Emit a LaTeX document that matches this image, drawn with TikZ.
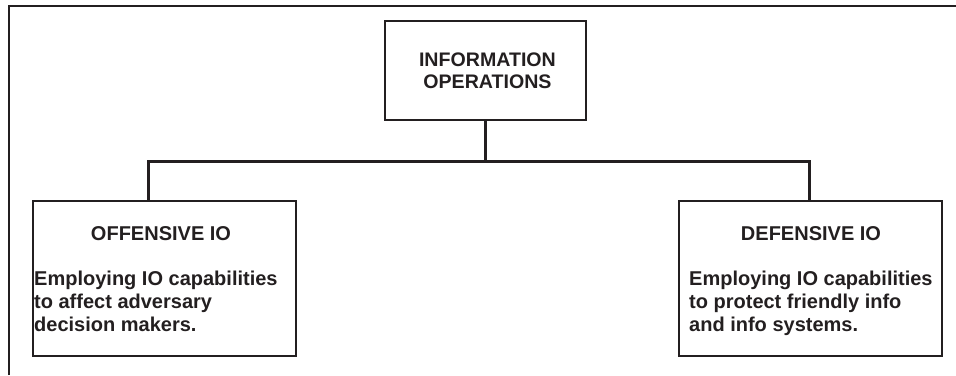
\documentclass[tikz,border=0pt]{standalone}
\usepackage{fontspec}
\setmainfont{Liberation Sans}
\definecolor{ink}{HTML}{231F20}
\begin{document}
\begin{tikzpicture}[x=1pt,y=-1pt,
  every node/.style={text=ink},
  frameline/.style={draw=ink,line width=1.6pt},
  boxstyle/.style={draw=ink,line width=1.9pt,rectangle,inner sep=0pt,anchor=north west},
  conn/.style={draw=ink,line width=3pt},
  title/.style={font=\fontsize{20}{23}\selectfont\bfseries,anchor=base,inner sep=0pt},
  body/.style={font=\fontsize{20}{23}\selectfont\bfseries,align=left,anchor=north west,inner sep=0pt}]
  \useasboundingbox (0,0) rectangle (956,375);
  % outer frame (top and left sides only)
  \draw[frameline] (9,375) -- (9,6) -- (956,6);

  % the three boxes
  \node[boxstyle,minimum width=201pt,minimum height=99pt] (top) at (384,20) {};
  \node[boxstyle,minimum width=263pt,minimum height=155pt] (off) at (32,200) {};
  \node[boxstyle,minimum width=263pt,minimum height=155pt] (def) at (678,200) {};

  % box texts
  \node[font=\fontsize{19.6}{22}\selectfont\bfseries,align=center,inner sep=0pt] (toptext)
    at ([xshift=2pt]top.center) {INFORMATION\\OPERATIONS};
  \node[title] (offtitle) at (161,240) {OFFENSIVE IO};
  \node[body] (offbody) at (34,271) {Employing IO capabilities\\to affect adversary\\decision makers.};
  \node[title] (deftitle) at (811,240) {DEFENSIVE IO};
  \node[body] (defbody) at (689,271) {Employing IO capabilities\\to protect friendly info\\and info systems.};

  % connectors
  \coordinate (jl) at (148,161);
  \coordinate (jr) at (809,161);
  \draw[conn] (top.south) -- (top.south |- jl);
  \draw[conn] (off.north -| jl) -- (jl) -- (jr) -- (def.north -| jr);
\end{tikzpicture}
\end{document}
